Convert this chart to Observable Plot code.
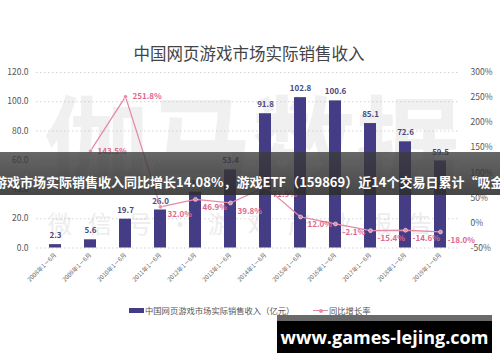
<!DOCTYPE html>
<html>
<head>
<meta charset="utf-8">
<script src="https://cdn.jsdelivr.net/npm/d3@7"></script>
<script src="https://cdn.jsdelivr.net/npm/@observablehq/plot@0.6"></script>
<style>
  html, body { margin: 0; padding: 0; background: #fff; }
  #wrap { position: relative; width: 500px; height: 362px; overflow: hidden; background: #fff;
          font-family: "Noto Sans CJK SC", "Noto Sans", sans-serif; }
  .abs { position: absolute; }
  #wm1 { left: 44px; top: 84px; font-size: 104px; line-height: 110px; font-weight: 700; color: #f0f0f0;
         white-space: nowrap; letter-spacing: 0px; z-index: 0; }
  #wm2 { left: 48px; top: 208px; font-size: 24px; line-height: 30px; color: #ededed; white-space: nowrap;
         letter-spacing: 16px; z-index: 0; }
  #chart { left: 0; top: 0; z-index: 1; }
  #title { left: 0; width: 498px; top: 42px; text-align: center; font-size: 16.5px; color: #444; z-index: 2; line-height: 22px; }
  #legend { left: 0; top: 303px; width: 500px; height: 16px; z-index: 2; font-size: 8.3px; color: #555; }
  #banner { left: 0; top: 152px; width: 500px; height: 43px; z-index: 3;
            background: linear-gradient(rgba(60,60,60,0.78), rgba(45,45,45,0.88));
            color: #fff; font-weight: 700; font-size: 13px; line-height: 20px; padding-top: 20px; box-sizing: border-box;
            white-space: nowrap; text-indent: -6px; }
  #site { left: 277px; top: 315px; width: 215px; height: 32px; background: #000; border-top: 6px solid #6a6a6a; z-index: 3;
          color: #fff; font-weight: 700; font-size: 18px; line-height: 32px; text-align: center; white-space: nowrap;
          font-family: "Open Sans", "DejaVu Sans", sans-serif; }
</style>
</head>
<body>
<div id="wrap">
  <div id="wm1" class="abs">伽马数据</div>
  <div id="wm2" class="abs">微信号·游戏产业报告</div>
  <div id="chart" class="abs"></div>
  <div id="title" class="abs">中国网页游戏市场实际销售收入</div>
  <div id="legend" class="abs"></div>
  <div id="banner" class="abs">游戏市场实际销售收入同比增长14.08%，游戏ETF（159869）近14个交易日累计“吸金”</div>
  <div id="site" class="abs">www.games-lejing.com</div>
</div>
<script>
// ---- data ----
const categories = ["2008年1－6月","2009年1－6月","2010年1－6月","2011年1－6月","2012年1－6月","2013年1－6月",
                    "2014年1－6月","2015年1－6月","2016年1－6月","2017年1－6月","2018年1－6月","2019年1－6月"];
const revenue = [2.3, 5.6, 19.7, 26.0, 38.2, 53.4, 91.8, 102.8, 100.6, 85.1, 72.6, 59.5];
const growth = [null, 143.5, 251.8, 32.0, 46.9, 39.8, 71.9, 12.0, -2.1, -15.4, -14.6, -18.0];
const leftTicks = [0, 20, 40, 60, 80, 100, 120];
const rightTicks = [-50, 0, 50, 100, 150, 200, 250, 300];
const seriesNames = ["中国网页游戏市场实际销售收入（亿元）", "同比增长率"];

// ---- styling ----
const barColor = "#443c84";
const barLabelColor = "#4a4880";
const lineColor = "#e58aa6";
const lineLabelColor = "#e0678c";

// secondary axis mapping: right domain [-50, 300] onto left [0, 120]
const rMin = -50, rMax = 300, lMax = 120;
const g2y = g => (g - rMin) * lMax / (rMax - rMin);
const y2g = y => y * (rMax - rMin) / lMax + rMin;

const rows = categories.map((c, i) => ({cat: c, rev: revenue[i], g: growth[i]}));
const gRows = rows.filter(d => d.g !== null);

const chart = Plot.plot({
  width: 500,
  height: 300,
  marginLeft: 36,
  marginRight: 41,
  marginTop: 72,
  marginBottom: 52.5,
  style: {background: "transparent", fontFamily: "'Noto Sans CJK SC', 'Noto Sans', sans-serif"},
  x: {domain: categories, paddingInner: 0.67, paddingOuter: 0.345},
  y: {domain: [0, lMax]},
  marks: [
    Plot.gridY(leftTicks, {stroke: "#c8c8c8", strokeOpacity: 1, strokeDasharray: "1.5,2.5", strokeWidth: 0.8}),
    Plot.barY(rows, {x: "cat", y: "rev", fill: barColor}),
    Plot.text(rows, {x: "cat", y: "rev", text: d => d.rev.toFixed(1), dy: -9, fill: barLabelColor,
                     fontSize: 8, fontWeight: "bold"}),
    Plot.line(gRows, {x: "cat", y: d => g2y(d.g), stroke: lineColor, strokeWidth: 1.3}),
    Plot.dot(gRows, {x: "cat", y: d => g2y(d.g), r: 2, fill: lineColor, stroke: "white", strokeWidth: 0.5}),
    Plot.text(gRows.filter(d => d.g > 100), {x: "cat", y: d => g2y(d.g), text: d => d.g.toFixed(1) + "%",
                     dx: 7, textAnchor: "start", fill: lineLabelColor, fontSize: 8, fontWeight: "bold"}),
    Plot.text(gRows.filter(d => d.g <= 100), {x: "cat", y: d => g2y(d.g), text: d => d.g.toFixed(1) + "%",
                     dx: 7, dy: 8, textAnchor: "start", fill: lineLabelColor, fontSize: 8, fontWeight: "bold"}),
    Plot.axisY({ticks: leftTicks, tickFormat: d => d.toFixed(1), tickSize: 0, tickPadding: 8,
                fontSize: 8.5, label: null, color: "#555"}),
    Plot.axisY({anchor: "right", ticks: rightTicks.map(g2y), tickFormat: d => Math.round(y2g(d)) + "%",
                tickSize: 0, tickPadding: 11, fontSize: 8.5, label: null, color: "#555"}),
    Plot.axisX({tickRotate: -45, tickSize: 0, tickPadding: 6, fontSize: 6, label: null, color: "#666"})
  ]
});
document.getElementById("chart").appendChild(chart);

// ---- legend ----
const legend = document.getElementById("legend");
legend.innerHTML =
  `<div class="abs" style="left:129px;top:5px;width:15px;height:5px;background:${barColor}"></div>` +
  `<div class="abs" style="left:145px;top:0;line-height:15px;white-space:nowrap">${seriesNames[0]}</div>` +
  `<div class="abs" style="left:313px;top:7px;width:15px;height:1.2px;background:${lineColor}"></div>` +
  `<div class="abs" style="left:319px;top:5.5px;width:4px;height:4px;border-radius:2px;background:${lineColor}"></div>` +
  `<div class="abs" style="left:329px;top:0;line-height:15px;white-space:nowrap">${seriesNames[1]}</div>`;
</script>
</body>
</html>
